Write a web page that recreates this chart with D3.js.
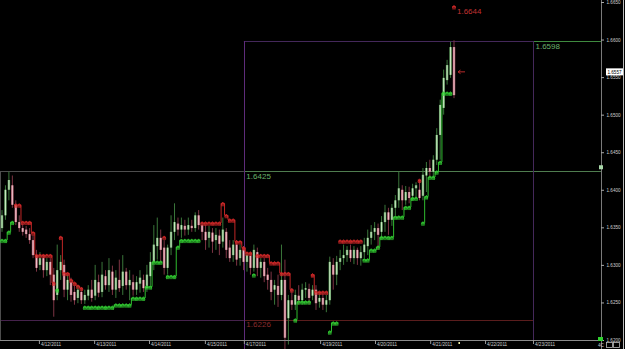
<!DOCTYPE html>
<html><head><meta charset="utf-8">
<script src="https://cdn.jsdelivr.net/npm/d3@7"></script>
<style>
html,body{margin:0;padding:0;background:#000;overflow:hidden}
svg{display:block}
text{font-family:"Liberation Sans",Arial,sans-serif}
</style></head><body>
<svg id="c" width="625" height="349"></svg>
<script>
// ---- data (GBP/USD style bars) ----
const opens  = [1.6349,1.6366,1.6400,1.6406,1.6380,1.6357,1.6349,1.6347,1.6341,1.6333,1.6313,1.6300,1.6309,1.6293,1.6304,1.6287,1.6260,1.6293,1.6300,1.6267,1.6277,1.6264,1.6256,1.6264,1.6253,1.6259,1.6267,1.6259,1.6277,1.6264,1.6285,1.6273,1.6291,1.6267,1.6280,1.6272,1.6291,1.6273,1.6277,1.6267,1.6275,1.6280,1.6269,1.6285,1.6304,1.6325,1.6336,1.6323,1.6296,1.6323,1.6344,1.6355,1.6347,1.6352,1.6347,1.6352,1.6349,1.6366,1.6353,1.6344,1.6336,1.6343,1.6333,1.6339,1.6331,1.6344,1.6323,1.6313,1.6327,1.6309,1.6320,1.6304,1.6312,1.6296,1.6317,1.6296,1.6304,1.6287,1.6280,1.6267,1.6272,1.6260,1.6280,1.6229,1.6253,1.6247,1.6259,1.6253,1.6267,1.6268,1.6259,1.6267,1.6251,1.6256,1.6247,1.6253,1.6300,1.6287,1.6304,1.6309,1.6313,1.6320,1.6309,1.6320,1.6309,1.6317,1.6325,1.6336,1.6344,1.6349,1.6344,1.6357,1.6370,1.6360,1.6376,1.6386,1.6400,1.6386,1.6397,1.6392,1.6402,1.6400,1.6392,1.6419,1.6429,1.6424,1.6440,1.6473,1.6509,1.6546,1.6553,1.6590];
const highs  = [1.6373,1.6406,1.6424,1.6419,1.6386,1.6366,1.6355,1.6352,1.6349,1.6340,1.6320,1.6317,1.6313,1.6309,1.6309,1.6296,1.6327,1.6313,1.6307,1.6287,1.6283,1.6273,1.6273,1.6269,1.6267,1.6273,1.6280,1.6300,1.6287,1.6304,1.6293,1.6309,1.6299,1.6293,1.6307,1.6313,1.6296,1.6293,1.6287,1.6285,1.6293,1.6287,1.6300,1.6317,1.6353,1.6363,1.6347,1.6333,1.6327,1.6366,1.6382,1.6363,1.6363,1.6360,1.6363,1.6360,1.6370,1.6373,1.6357,1.6353,1.6352,1.6349,1.6349,1.6347,1.6363,1.6349,1.6333,1.6333,1.6333,1.6327,1.6325,1.6317,1.6317,1.6327,1.6323,1.6309,1.6309,1.6296,1.6291,1.6280,1.6287,1.6327,1.6307,1.6260,1.6269,1.6267,1.6273,1.6275,1.6277,1.6275,1.6273,1.6273,1.6264,1.6263,1.6260,1.6311,1.6309,1.6312,1.6320,1.6327,1.6325,1.6327,1.6325,1.6323,1.6325,1.6336,1.6347,1.6353,1.6357,1.6355,1.6365,1.6380,1.6376,1.6381,1.6393,1.6424,1.6406,1.6405,1.6404,1.6408,1.6410,1.6413,1.6429,1.6437,1.6440,1.6446,1.6482,1.6520,1.6560,1.6573,1.6597,1.6599];
const lows   = [1.6344,1.6360,1.6386,1.6376,1.6353,1.6344,1.6339,1.6336,1.6328,1.6309,1.6291,1.6293,1.6283,1.6285,1.6273,1.6231,1.6253,1.6280,1.6257,1.6253,1.6251,1.6247,1.6249,1.6248,1.6248,1.6253,1.6251,1.6253,1.6257,1.6257,1.6267,1.6264,1.6260,1.6256,1.6264,1.6260,1.6267,1.6253,1.6259,1.6260,1.6263,1.6264,1.6264,1.6273,1.6293,1.6307,1.6304,1.6287,1.6287,1.6313,1.6333,1.6339,1.6336,1.6339,1.6340,1.6344,1.6344,1.6347,1.6333,1.6320,1.6323,1.6316,1.6320,1.6313,1.6323,1.6309,1.6304,1.6304,1.6299,1.6299,1.6293,1.6291,1.6287,1.6291,1.6285,1.6283,1.6277,1.6267,1.6253,1.6247,1.6244,1.6253,1.6188,1.6194,1.6240,1.6240,1.6247,1.6247,1.6256,1.6247,1.6253,1.6240,1.6243,1.6240,1.6237,1.6247,1.6267,1.6273,1.6293,1.6300,1.6304,1.6304,1.6301,1.6300,1.6299,1.6309,1.6313,1.6327,1.6333,1.6320,1.6336,1.6344,1.6340,1.6352,1.6366,1.6376,1.6373,1.6380,1.6382,1.6386,1.6389,1.6386,1.6386,1.6397,1.6416,1.6416,1.6433,1.6440,1.6500,1.6540,1.6549,1.6522];
const closes = [1.6366,1.6400,1.6413,1.6380,1.6357,1.6349,1.6344,1.6341,1.6333,1.6313,1.6296,1.6309,1.6293,1.6304,1.6287,1.6253,1.6293,1.6304,1.6267,1.6280,1.6260,1.6253,1.6267,1.6253,1.6260,1.6267,1.6256,1.6280,1.6263,1.6287,1.6273,1.6293,1.6267,1.6283,1.6269,1.6291,1.6273,1.6280,1.6267,1.6277,1.6283,1.6269,1.6287,1.6304,1.6327,1.6336,1.6320,1.6296,1.6323,1.6344,1.6357,1.6347,1.6353,1.6347,1.6353,1.6349,1.6366,1.6353,1.6344,1.6333,1.6344,1.6331,1.6340,1.6328,1.6347,1.6320,1.6309,1.6327,1.6307,1.6320,1.6304,1.6313,1.6296,1.6320,1.6296,1.6304,1.6285,1.6280,1.6264,1.6273,1.6260,1.6280,1.6203,1.6253,1.6247,1.6260,1.6253,1.6267,1.6269,1.6256,1.6267,1.6249,1.6256,1.6247,1.6253,1.6304,1.6287,1.6304,1.6309,1.6313,1.6320,1.6309,1.6320,1.6309,1.6317,1.6327,1.6336,1.6344,1.6349,1.6340,1.6357,1.6370,1.6360,1.6376,1.6386,1.6402,1.6386,1.6397,1.6389,1.6402,1.6406,1.6389,1.6420,1.6429,1.6424,1.6440,1.6473,1.6513,1.6549,1.6566,1.6590,1.6526];
// trailing stop indicator: level per bar and side ("u" = support below, "d" = resistance above)
const stopLevels = [1.6333,1.6333,1.6344,1.6357,1.6380,1.6380,1.6357,1.6357,1.6357,1.6343,1.6313,1.6313,1.6313,1.6313,1.6313,1.6276,1.6267,1.6337,1.6289,1.6289,1.6280,1.6276,1.6272,1.6269,1.6244,1.6244,1.6244,1.6244,1.6244,1.6244,1.6244,1.6244,1.6244,1.6247,1.6247,1.6247,1.6247,1.6247,1.6256,1.6256,1.6256,1.6256,1.6271,1.6271,1.6304,1.6304,1.6304,1.6337,1.6285,1.6285,1.6285,1.6324,1.6333,1.6333,1.6333,1.6333,1.6333,1.6333,1.6356,1.6356,1.6356,1.6356,1.6356,1.6356,1.6382,1.6366,1.6360,1.6360,1.6331,1.6331,1.6323,1.6316,1.6316,1.6287,1.6313,1.6313,1.6313,1.6313,1.6303,1.6303,1.6303,1.6289,1.6289,1.6289,1.6267,1.6227,1.6251,1.6251,1.6251,1.6251,1.6287,1.6264,1.6264,1.6264,1.6264,1.6211,1.6223,1.6223,1.6332,1.6332,1.6332,1.6332,1.6332,1.6332,1.6332,1.6307,1.6307,1.6320,1.6320,1.6324,1.6337,1.6337,1.6337,1.6337,1.6364,1.6364,1.6364,1.6377,1.6377,1.6389,1.6389,1.6413,1.6356,1.6391,1.6417,1.6417,1.6424,1.6437,1.6529,1.6529,1.6529,1.6644];
const stopSides  = ["u","u","u","u","d","d","d","d","d","d","d","d","d","d","d","d","u","d","d","d","d","d","d","d","u","u","u","u","u","u","u","u","u","u","u","u","u","u","u","u","u","u","u","u","u","u","u","d","u","u","u","u","u","u","u","u","u","u","d","d","d","d","d","d","d","d","d","d","d","d","d","d","d","u","d","d","d","d","d","d","d","d","d","d","d","u","u","u","u","u","d","d","d","d","d","u","u","u","d","d","d","d","d","d","d","u","u","u","u","u","u","u","u","u","u","u","u","u","u","u","u","d","u","u","u","u","u","u","u","u","u","d"];
const priceTicks = [1.6200,1.6250,1.6300,1.6350,1.6400,1.6450,1.6500,1.6550,1.6600,1.6650];
const dateLabels = ["4/12/2011","4/13/2011","4/14/2011","4/15/2011","4/17/2011","4/19/2011","4/20/2011","4/21/2011","4/22/2011","4/23/2011"];
const dateTickBars = [10.7,26.7,42.6,58.8,70.1,92.2,108.1,124.1,140,153.9];
const rangeHigh = 1.6598, rangeMid = 1.6425, rangeLow = 1.6226;
const boxStartBar = 70.1, boxEndBar = 153.9;
const lastPrice = 1.6557;
const flagPrice = 1.6430;

// ---- drawing ----
const svg = d3.select('#c');
const H = 349, axisX = 601, axisY = 340;
const x = d3.scaleLinear().domain([0, opens.length - 1]).range([2, 454]);
const y = d3.scaleLinear().domain([1.620, 1.665]).range([axisY, 2]);
const step = x(1) - x(0);
const bars = opens.map((o, i) => ({i, o, h: highs[i], l: lows[i], c: closes[i], s: stopLevels[i], side: stopSides[i]}));

const defs = svg.append('defs');
function grad(id, edge, mid) {
  const g = defs.append('linearGradient').attr('id', id).attr('x1', 0).attr('x2', 1).attr('y1', 0).attr('y2', 0);
  g.append('stop').attr('offset', '0%').attr('stop-color', edge);
  g.append('stop').attr('offset', '50%').attr('stop-color', mid);
  g.append('stop').attr('offset', '100%').attr('stop-color', edge);
}
grad('gUp', '#4a8a4a', '#cdeac6');
grad('gDn', '#a65565', '#f0c2ca');

svg.append('rect').attr('width', 625).attr('height', H).attr('fill', '#000');

// level / range box lines
const xL = x(0) - step / 2, xB = x(boxStartBar), xE = x(boxEndBar);
function hline(x1, x2, v, col) {
  svg.append('line').attr('x1', x1).attr('x2', x2).attr('y1', Math.round(y(v)) + 0.5).attr('y2', Math.round(y(v)) + 0.5).attr('stroke', col).attr('stroke-width', 1);
}
function vline(xx, y1, y2, col) {
  svg.append('line').attr('x1', Math.round(xx) + 0.5).attr('x2', Math.round(xx) + 0.5).attr('y1', y1).attr('y2', y2).attr('stroke', col).attr('stroke-width', 1);
}
hline(xL, xB, rangeMid, '#4d4d4d');
hline(xB, axisX, rangeMid, '#4f7d4f');
hline(xL, xB, rangeLow, '#45224c');
hline(xB, xE, rangeLow, '#5a1d1d');
hline(xB, xE, rangeHigh, '#44285a');
hline(xE, axisX, rangeHigh, '#3f8a3f');
vline(xL, y(rangeMid), axisY, '#4d4d4d');
vline(xB, y(rangeHigh), H, '#5e2c7a');
vline(xE, y(rangeHigh), axisY, '#44285a');

// candles
const cg = svg.append('g');
cg.selectAll('line.w').data(bars).join('line')
  .attr('x1', d => x(d.i)).attr('x2', d => x(d.i))
  .attr('y1', d => y(d.h)).attr('y2', d => y(d.l))
  .attr('stroke', d => d.c >= d.o ? '#3a763a' : '#7d3444').attr('stroke-width', 1);
const bw = step * 0.72;
cg.selectAll('rect.b').data(bars).join('rect')
  .attr('x', d => x(d.i) - bw / 2).attr('width', bw)
  .attr('y', d => y(Math.max(d.o, d.c)))
  .attr('height', d => Math.max(1, Math.abs(y(d.o) - y(d.c))))
  .attr('fill', d => d.c >= d.o ? 'url(#gUp)' : 'url(#gDn)');

// trailing stop glyphs
const sg = svg.append('g');
const col = s => s === 'u' ? '#34d034' : '#d52a2a';
bars.forEach((d, k) => {
  if (d.s == null) return;
  const cx = x(d.i), sy = y(d.s), c = col(d.side);
  const p = d3.path();
  p.moveTo(cx - step / 2, sy); p.lineTo(cx + step / 2, sy);
  [-1.1, 0, 1.1].forEach(o => { p.moveTo(cx + o, sy); p.lineTo(cx + o, sy + 3); });
  p.moveTo(cx - 1.6, sy + 1.5); p.lineTo(cx, sy - 1.2); p.lineTo(cx + 1.6, sy + 1.5);
  sg.append('path').attr('d', p.toString()).attr('stroke', c).attr('stroke-width', 0.8).attr('fill', 'none');
  const prev = bars[k - 1];
  if (prev && prev.side === d.side && prev.s !== d.s) {
    const bx = cx - step / 2;
    sg.append('line').attr('x1', bx).attr('x2', bx).attr('y1', y(prev.s)).attr('y2', sy).attr('stroke', c).attr('stroke-width', 0.9);
  }
});

// current price marker
const lp = y(lastPrice), lx = x(opens.length - 1);
svg.append('path').attr('d', `M${lx + 4},${lp} L${lx + 11},${lp} M${lx + 4},${lp} L${lx + 6.5},${lp - 1.8} M${lx + 4},${lp} L${lx + 6.5},${lp + 1.8}`)
  .attr('stroke', '#b82a2a').attr('stroke-width', 1).attr('fill', 'none');

// level labels
function lab(txt, xx, v, dy, c) {
  svg.append('text').attr('x', xx).attr('y', y(v) + dy).attr('fill', c).attr('font-size', 8).text(txt);
}
lab(d3.format('.4f')(rangeMid), xB + 2.5, rangeMid, 7.5, '#69b069');
lab(d3.format('.4f')(rangeLow), xB + 2.5, rangeLow, 6.5, '#8a2c2c');
lab(d3.format('.4f')(rangeHigh), xE + 2.5, rangeHigh, 8, '#6ab36a');
const peak = stopLevels[stopLevels.length - 1];
svg.append('text').attr('x', x(opens.length - 1) + 3).attr('y', y(peak) + 7.5).attr('fill', '#c23232').attr('font-size', 8).text(d3.format('.4f')(peak));

// axes
svg.append('line').attr('x1', 0).attr('x2', axisX).attr('y1', axisY + 0.5).attr('y2', axisY + 0.5).attr('stroke', '#8a8a8a');
svg.append('line').attr('x1', axisX + 0.5).attr('x2', axisX + 0.5).attr('y1', 0).attr('y2', H).attr('stroke', '#7a7a7a');

const ya = svg.append('g').attr('transform', `translate(${axisX},0)`)
  .call(d3.axisRight(y).tickValues(priceTicks).tickFormat(d3.format('.4f')).tickSize(3).tickPadding(2.5));
ya.select('.domain').remove();
ya.selectAll('line').attr('stroke', '#aaa');
ya.selectAll('text').attr('fill', '#cfcfcf').attr('font-size', 4.6).attr('font-family', '"Liberation Sans",Arial,sans-serif');

const xa = svg.append('g').attr('transform', `translate(0,${axisY})`)
  .call(d3.axisBottom(x).tickValues(dateTickBars).tickFormat((d, i) => dateLabels[i]).tickSize(4));
xa.select('.domain').remove();
xa.selectAll('line').attr('stroke', '#999');
xa.selectAll('text').attr('fill', '#cfcfcf').attr('font-size', 4.6).attr('text-anchor', 'start')
  .attr('x', 1.5).attr('y', 2.3).attr('font-family', '"Liberation Sans",Arial,sans-serif');

// current price tag on the axis
svg.append('rect').attr('x', axisX + 5).attr('y', lp - 3.5).attr('width', 17).attr('height', 7).attr('fill', '#fff');
svg.append('text').attr('x', axisX + 13.5).attr('y', lp + 1.8).attr('text-anchor', 'middle').attr('font-size', 4.6).attr('fill', '#000').text(d3.format('.4f')(lastPrice));

// small markers
svg.append('rect').attr('x', x(opens.length) + 1).attr('y', axisY + 2).attr('width', 1.5).attr('height', 2).attr('fill', '#ffffb0');
svg.append('rect').attr('x', axisX - 3).attr('y', axisY - 3).attr('width', 5).attr('height', 4).attr('fill', '#2fd02f');
svg.append('rect').attr('x', axisX - 2).attr('y', y(flagPrice) - 2).attr('width', 4).attr('height', 4).attr('fill', '#a9d8a9');
svg.append('text').attr('x', axisX - 3).attr('y', 347).attr('font-size', 4.6).attr('fill', '#ccc').text('4C');
svg.append('rect').attr('x', axisX + 5.5).attr('y', 342.5).attr('width', 6).attr('height', 5).attr('fill', 'none').attr('stroke', '#bbb').attr('stroke-width', 0.8);
svg.append('rect').attr('x', axisX + 12.5).attr('y', 342.5).attr('width', 6).attr('height', 5).attr('fill', 'none').attr('stroke', '#bbb').attr('stroke-width', 0.8);
svg.append('line').attr('x1', 623.5).attr('x2', 623.5).attr('y1', 0).attr('y2', H).attr('stroke', '#bdbdbd');
</script>
</body></html>
